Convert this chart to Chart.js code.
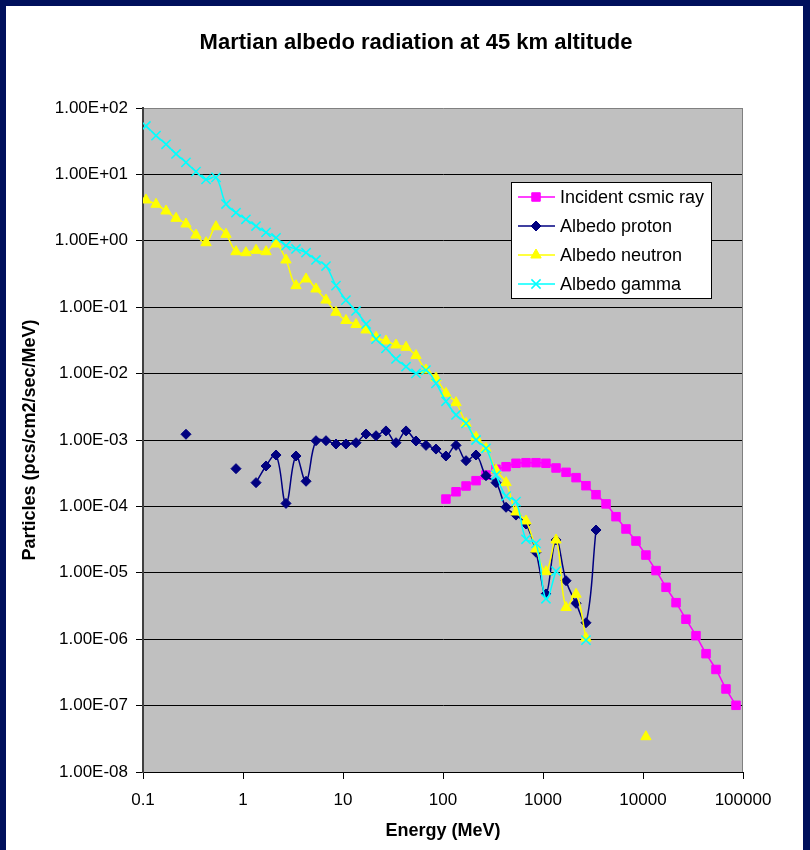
<!DOCTYPE html>
<html>
<head>
<meta charset="utf-8">
<title>Martian albedo radiation at 45 km altitude</title>
<script src="https://cdn.jsdelivr.net/npm/chart.js@4.4.1/dist/chart.umd.min.js"></script>
<style>
  html, body { margin: 0; padding: 0; background: #fff; }
  canvas { display: block; }
</style>
</head>
<body>
<canvas id="albedoChart" width="810" height="850" style="width:810px;height:850px"></canvas>
<script>
const chartTitle = "Martian albedo radiation at 45 km altitude";
const xTitle = "Energy (MeV)";
const yTitle = "Particles (pcs/cm2/sec/MeV)";
const seriesNames = ["Incident csmic ray", "Albedo proton", "Albedo neutron", "Albedo gamma"];

const xTicks = [0.1, 1, 10, 100, 1000, 10000, 100000];
const xTickLabels = ["0.1", "1", "10", "100", "1000", "10000", "100000"];
const yTicks = [1e-8, 1e-7, 1e-6, 1e-5, 1e-4, 1e-3, 1e-2, 1e-1, 1, 10, 100];
const yTickLabels = ["1.00E-08", "1.00E-07", "1.00E-06", "1.00E-05", "1.00E-04", "1.00E-03",
  "1.00E-02", "1.00E-01", "1.00E+00", "1.00E+01", "1.00E+02"];

// incident cosmic rays (MeV, particles)
const incidentEnergy = [107, 135, 170, 214, 269, 339, 427, 537, 676, 851, 1070, 1350, 1700, 2140, 2690,
  3390, 4270, 5370, 6760, 8510, 10700, 13500, 17000, 21400, 26900, 33900, 42700, 53700, 67600, 85100];
const incidentFlux = [1.29e-4, 1.66e-4, 2.03e-4, 2.44e-4, 2.97e-4, 3.62e-4, 3.96e-4, 4.46e-4, 4.55e-4, 4.55e-4,
  4.46e-4, 3.79e-4, 3.26e-4, 2.71e-4, 2.05e-4, 1.50e-4, 1.09e-4, 7.0e-5, 4.57e-5, 3.01e-5,
  1.85e-5, 1.08e-5, 6.05e-6, 3.55e-6, 2.0e-6, 1.13e-6, 6.05e-7, 3.5e-7, 1.78e-7, 1.01e-7];

// albedo protons, null = gap in the line
const protonEnergy = [0.269, 0.5, 0.851, 1.07, 1.35, 1.70, 2.14, 2.69, 3.39, 4.27, 5.37, 6.76, 8.51,
  10.7, 13.5, 17.0, 21.4, 26.9, 33.9, 42.7, 53.7, 67.6, 85.1, 107, 135, 170, 214, 269, 339, 427,
  537, 676, 851, 1070, 1350, 1700, 2140, 2690, 3390];
const protonFlux = [1.22e-3, null, 3.7e-4, null, 2.28e-4, 4.06e-4, 5.94e-4, 1.11e-4, 5.74e-4, 2.39e-4,
  9.76e-4, 9.76e-4, 8.7e-4, 8.7e-4, 9.1e-4, 1.23e-3, 1.16e-3, 1.37e-3, 9.1e-4, 1.37e-3,
  9.66e-4, 8.3e-4, 7.3e-4, 5.74e-4, 8.3e-4, 4.88e-4, 5.94e-4, 2.9e-4, 2.28e-4, 9.7e-5,
  7.4e-5, 5.43e-5, 2.04e-5, 4.8e-6, 3.12e-5, 7.6e-6, 3.47e-6, 1.77e-6, 4.41e-5];

// albedo neutrons
const neutronEnergy = [0.107, 0.135, 0.170, 0.214, 0.269, 0.339, 0.427, 0.537, 0.676, 0.851,
  1.07, 1.35, 1.70, 2.14, 2.69, 3.39, 4.27, 5.37, 6.76, 8.51,
  10.7, 13.5, 17.0, 21.4, 26.9, 33.9, 42.7, 53.7, 67.6, 85.1,
  107, 135, 170, 214, 269, 339, 427, 537, 676, 851,
  1070, 1350, 1700, 2140, 2690, 5000, 10700];
const neutronFlux = [4.12, 3.55, 2.81, 2.18, 1.79, 1.22, 0.936, 1.63, 1.25, 0.685,
  0.662, 0.719, 0.685, 0.895, 0.514, 0.211, 0.266, 0.188, 0.128, 0.0838,
  0.0631, 0.0549, 0.0454, 0.0352, 0.031, 0.027, 0.0249, 0.0187, 0.0113, 0.0086,
  0.00505, 0.00365, 0.00178, 0.0011, 7.5e-4, 3.53e-4, 2.28e-4, 8.24e-5, 6.03e-5, 2.28e-5,
  1.04e-5, 3.12e-5, 3.0e-6, 4.75e-6, 1.04e-6, null, 3.4e-8];

// albedo gamma
const gammaEnergy = [0.107, 0.135, 0.170, 0.214, 0.269, 0.339, 0.427, 0.537, 0.676, 0.851,
  1.07, 1.35, 1.70, 2.14, 2.69, 3.39, 4.27, 5.37, 6.76, 8.51,
  10.7, 13.5, 17.0, 21.4, 26.9, 33.9, 42.7, 53.7, 67.6, 85.1,
  107, 135, 170, 214, 269, 339, 427, 537, 676, 851,
  1070, 1350, 1700, 2690];
const gammaFlux = [53.6, 38.3, 28.4, 20.3, 15.2, 11.0, 8.4, 9.0, 3.58, 2.65,
  2.11, 1.67, 1.34, 1.11, 0.843, 0.753, 0.662, 0.514, 0.417, 0.211,
  0.128, 0.0877, 0.0558, 0.033, 0.024, 0.0166, 0.0127, 0.0101, 0.0113, 0.00714,
  0.00383, 0.00238, 0.00178, 0.001, 7.5e-4, 2.97e-4, 1.43e-4, 1.18e-4, 3.2e-5, 2.78e-5,
  4.06e-6, 1.06e-5, null, 9.7e-7];

const fontFamily = "'Liberation Sans', Arial, sans-serif";
const navy = "#00105c";

const toPoints = function (energy, flux) {
  return energy.map((e, i) => ({ x: e, y: flux[i] }));
};

const makeSeries = function (label, energy, flux, color, style, radius, order) {
  return {
    label: label,
    data: toPoints(energy, flux),
    showLine: true,
    borderColor: color,
    backgroundColor: color,
    borderWidth: 1.5,
    tension: 0.4,
    pointStyle: style,
    pointRadius: radius,
    pointBackgroundColor: color,
    pointBorderColor: color,
    pointBorderWidth: style === "crossRot" ? 1.5 : 1,
    order: order,
  };
};

const datasets = [
  makeSeries(seriesNames[0], incidentEnergy, incidentFlux, "#ff00ff", "rect", 6, 4),
  makeSeries(seriesNames[1], protonEnergy, protonFlux, "#000080", "rectRot", 5, 3),
  makeSeries(seriesNames[2], neutronEnergy, neutronFlux, "#ffff00", "triangle", 6, 2),
  makeSeries(seriesNames[3], gammaEnergy, gammaFlux, "#00ffff", "crossRot", 6.5, 1),
];

// background, frame, title and legend
const framePlugin = {
  id: "frame",
  beforeDraw(chart) {
    const { ctx, chartArea: a, width, height } = chart;
    ctx.save();
    ctx.fillStyle = "#ffffff";
    ctx.fillRect(0, 0, width, height);
    ctx.fillStyle = "#c0c0c0";
    ctx.fillRect(a.left, a.top, a.right - a.left, a.bottom - a.top);
    ctx.fillStyle = navy;
    ctx.fillRect(0, 0, width, 6);
    ctx.fillRect(0, 0, 6, height);
    ctx.fillRect(width - 7, 0, 7, height);
    ctx.fillStyle = "#000";
    ctx.font = "bold 22px " + fontFamily;
    ctx.textAlign = "center";
    ctx.textBaseline = "middle";
    ctx.fillText(chartTitle, 416, 43);
    ctx.restore();
  },
  beforeDatasetsDraw(chart) {
    const { ctx, chartArea: a } = chart;
    ctx.save();
    ctx.strokeStyle = "#808080";
    ctx.lineWidth = 1;
    ctx.beginPath();
    ctx.moveTo(a.right - 0.5, a.top);
    ctx.lineTo(a.right - 0.5, a.bottom);
    ctx.stroke();
    ctx.restore();
  },
  afterDraw(chart) {
    const ctx = chart.ctx;
    const box = { x: 511, y: 182, w: 200, h: 116 };
    const rows = [197, 226, 255, 284];
    ctx.save();
    ctx.fillStyle = "#fff";
    ctx.fillRect(box.x, box.y, box.w, box.h);
    ctx.strokeStyle = "#000";
    ctx.lineWidth = 1;
    ctx.strokeRect(box.x + 0.5, box.y + 0.5, box.w, box.h);
    chart.data.datasets.forEach((ds, i) => {
      const y = rows[i];
      ctx.strokeStyle = ds.borderColor;
      ctx.lineWidth = ds.borderWidth;
      ctx.beginPath();
      ctx.moveTo(518, y);
      ctx.lineTo(555, y);
      ctx.stroke();
      ctx.fillStyle = ds.pointBackgroundColor;
      ctx.strokeStyle = ds.pointBorderColor;
      ctx.lineWidth = ds.pointBorderWidth;
      Chart.helpers.drawPoint(ctx, {
        pointStyle: ds.pointStyle,
        radius: ds.pointRadius,
        rotation: 0,
        borderWidth: ds.pointBorderWidth,
      }, 536, y);
      ctx.fillStyle = "#000";
      ctx.font = "18px " + fontFamily;
      ctx.textAlign = "left";
      ctx.textBaseline = "middle";
      ctx.fillText(ds.label, 560, y + 1);
    });
    ctx.restore();
  },
};

new Chart(document.getElementById("albedoChart"), {
  type: "scatter",
  data: { datasets: datasets },
  plugins: [framePlugin],
  options: {
    responsive: false,
    animation: false,
    events: [],
    devicePixelRatio: 1,
    layout: { padding: { left: 0, right: 67, top: 108, bottom: 0 } },
    plugins: {
      legend: { display: false },
      title: { display: false },
      tooltip: { enabled: false },
    },
    scales: {
      x: {
        type: "logarithmic",
        min: 0.1,
        max: 100000,
        afterBuildTicks: (scale) => { scale.ticks = xTicks.map((v) => ({ value: v })); },
        afterFit: (scale) => { scale.height = 78; },
        grid: { drawOnChartArea: false, drawTicks: true, tickLength: 7, tickColor: "#000", lineWidth: 1 },
        border: { display: true, color: "#000", width: 1 },
        ticks: {
          autoSkip: false,
          maxRotation: 0,
          padding: 11,
          color: "#000",
          font: { family: fontFamily, size: 17 },
          callback: (v, i) => xTickLabels[i],
        },
        title: {
          display: true,
          text: xTitle,
          color: "#000",
          font: { family: fontFamily, size: 18, weight: "bold" },
          padding: { top: 0, bottom: 8 },
        },
      },
      y: {
        type: "logarithmic",
        min: 1e-8,
        max: 100,
        afterBuildTicks: (scale) => { scale.ticks = yTicks.map((v) => ({ value: v })); },
        afterFit: (scale) => { scale.width = 143; },
        grid: {
          color: (c) => (c.tick && c.tick.value === 100 ? "#808080" : "#000"),
          lineWidth: 1,
          drawTicks: true,
          tickLength: 7,
          tickColor: "#000",
        },
        border: { display: true, color: "#404040", width: 2 },
        ticks: {
          autoSkip: false,
          padding: 8,
          color: "#000",
          font: { family: fontFamily, size: 17 },
          callback: (v, i) => yTickLabels[i],
        },
        title: {
          display: true,
          text: yTitle,
          color: "#000",
          font: { family: fontFamily, size: 18, weight: "bold" },
          padding: { top: 19, bottom: 0 },
        },
      },
    },
  },
});
</script>
</body>
</html>
